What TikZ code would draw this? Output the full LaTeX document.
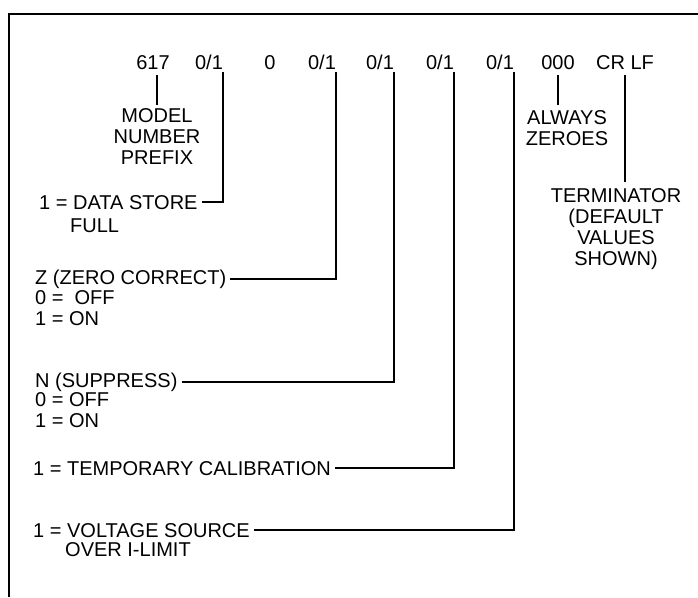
\documentclass[tikz,border=0pt]{standalone}
\usepackage{fontspec}
\setmainfont{Liberation Sans}
\usetikzlibrary{positioning}

\tikzset{
  fld/.style={inner sep=0pt, anchor=base},
  blk/.style={inner sep=0pt, align=center, anchor=north},
  lbl/.style={inner sep=0pt, anchor=base west},
  sub/.style={inner sep=0pt, align=left, anchor=north west},
  lead/.style={line width=1.8pt},
}

\begin{document}
\begin{tikzpicture}[x=1pt, y=-1pt, font=\fontsize{20}{21}\selectfont]
  \useasboundingbox (0,0) rectangle (698,597);
  % frame, open on the right and at the bottom
  \draw[line width=2.6pt] (9,597) -- (9,14) -- (698,14);

  % output string
  \node[fld] (pfx) at (153,69) {617};
  \node[fld] (dsf) at (209,69) {0/1};
  \node[fld] (zro) at (270,69) {0};
  \node[fld] (zcr) at (322,69) {0/1};
  \node[fld] (sps) at (380,69) {0/1};
  \node[fld] (tcl) at (440,69) {0/1};
  \node[fld] (ovl) at (500,69) {0/1};
  \node[fld] (azr) at (558,69) {000};
  \node[fld] (trm) at (625,69) {CR LF};

  % meanings
  \node[blk] (mnp) at (157,108) {MODEL\\NUMBER\\PREFIX};
  \node[blk] (azd) at (567,110) {ALWAYS\\ZEROES};
  \node[blk] (trd) at (616,188) {TERMINATOR\\(DEFAULT\\VALUES\\SHOWN)};

  \node[lbl] (dst) at (39,209) {1 = DATA STORE};
  \node[lbl] (dsx) at (70,232) {FULL};
  \node[lbl] (zc) at (35,284) {Z (ZERO CORRECT)};
  \node[sub] (zcv) at (35,290) {0 = \ OFF\\1 = ON};
  \node[lbl] (sp) at (35,387) {N (SUPPRESS)};
  \node[sub] (spv) at (35,392) {0 = OFF\\1 = ON};
  \node[lbl] (tc) at (33,475) {1 = TEMPORARY CALIBRATION};
  \node[lbl] (vs) at (33,537) {1 = VOLTAGE SOURCE};
  \node[lbl] (vsx) at (65,556) {OVER I-LIMIT};

  % leader lines
  \draw[lead, shorten <=6pt, shorten >=3pt] (pfx.south -| mnp.north) -- (mnp.north);
  \draw[lead, shorten <=3pt] (dsf.south east) |- ([xshift=4pt]dst.east);
  \draw[lead, shorten <=3pt] (zcr.south east) |- ([xshift=4pt]zc.east);
  \draw[lead, shorten <=3pt] (sps.south east) |- ([xshift=4pt]sp.east);
  \draw[lead, shorten <=3pt] (tcl.south east) |- ([xshift=4pt]tc.east);
  \draw[lead, shorten <=3pt] (ovl.south east) |- ([xshift=4pt]vs.east);
  \draw[lead, shorten <=6pt, shorten >=5pt] (azr.south) -- (azr.south |- azd.north);
  \draw[lead, shorten <=6pt, shorten >=6pt] (trm.south) -- (trm.south |- trd.north);
\end{tikzpicture}
\end{document}
